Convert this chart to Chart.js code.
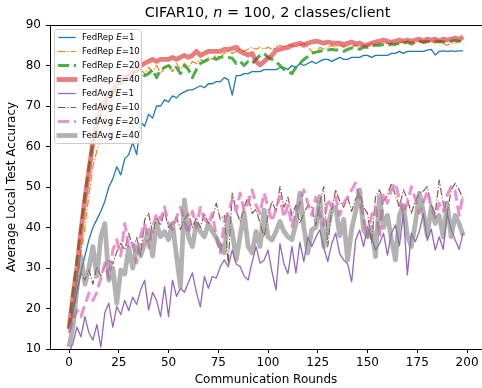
<!DOCTYPE html>
<html>
<head>
<meta charset="utf-8">
<script src="https://cdn.jsdelivr.net/npm/chart.js@4.4.1/dist/chart.umd.min.js"></script>
<style>
  html, body { margin: 0; padding: 0; background: #fff; }
  canvas { display: block; }
</style>
</head>
<body>
<canvas id="accChart" width="482" height="388"></canvas>
<script>
// communication rounds (every 2nd round)
const rounds = [
  0, 2, 4, 6, 8, 10, 12, 14, 16, 18,
  20, 22, 24, 26, 28, 30, 32, 34, 36, 38,
  40, 42, 44, 46, 48, 50, 52, 54, 56, 58,
  60, 62, 64, 66, 68, 70, 72, 74, 76, 78,
  80, 82, 84, 86, 88, 90, 92, 94, 96, 98,
  100, 102, 104, 106, 108, 110, 112, 114, 116, 118,
  120, 122, 124, 126, 128, 130, 132, 134, 136, 138,
  140, 142, 144, 146, 148, 150, 152, 154, 156, 158,
  160, 162, 164, 166, 168, 170, 172, 174, 176, 178,
  180, 182, 184, 186, 188, 190, 192, 194, 196, 198
];

const fedRepE1 = [
  15, 19, 24, 29, 33, 37, 40, 42, 44, 46.5,
  50, 52, 55, 53, 57, 58, 61, 58, 66, 65,
  68, 67, 70, 70, 71.5, 71, 72.5, 72, 73, 73.5,
  74, 74, 74.5, 75, 74.5, 75.5, 75.5, 76, 76, 77,
  76.5, 72.7, 77.5, 77.5, 78, 78, 78.5, 78.5, 78.5, 79,
  79, 79, 79, 79.5, 79.5, 79, 80, 79.5, 80.5, 80,
  80.5, 81, 80.5, 81, 81.5, 81.5, 81, 81.5, 82, 81.5,
  81.5, 82, 82, 82, 82.5, 82.5, 82, 82.5, 82.5, 82.5,
  82.5, 83, 83, 83.5, 83, 83.5, 83.5, 83.5, 83.5, 83.5,
  83.8, 84, 82.6, 83.5, 83.6, 83.5, 83.6, 83.5, 83.6, 83.6
];

const fedRepE10 = [
  14, 20, 27, 34, 40, 48, 55, 59, 63, 67,
  70, 72.5, 74, 75.5, 76.5, 77, 77.5, 78.5, 79, 78,
  79.5, 78.5, 80, 78, 79.5, 80, 78.5, 80.5, 79, 80.5,
  79.5, 81, 80.5, 81.5, 81, 82, 81.5, 82.5, 82, 83,
  83.5, 83, 83.5, 84, 83.5, 84, 84.5, 84, 84.5, 84,
  84.5, 84, 84.5, 85, 84.5, 85, 85, 84.5, 85, 85.5,
  84.5, 83.5, 83, 84.5, 84, 84.5, 85, 84.5, 85, 84.5,
  85, 84.5, 85, 84.5, 85, 85, 85.5, 85, 85.5, 85,
  85.5, 85.5, 85, 85.5, 86, 85.5, 85, 85.5, 86, 85.5,
  85.5, 86, 85.5, 86, 85.5, 85, 85.5, 85.5, 86, 86.2
];

const fedRepE20 = [
  15, 24, 32, 40, 48, 55, 61, 65, 68, 70,
  72, 73.5, 74.5, 75.5, 76.5, 77, 78, 78.5, 79, 77.5,
  78, 79, 77, 79, 79.5, 80, 79, 79.5, 78, 80,
  79, 77, 79, 80.5, 81, 81.5, 82, 81.5, 82, 82.2,
  82, 81.8, 80.5, 81, 80, 81, 80.5, 81.5, 82.5, 83,
  82, 81.5, 81, 80, 79, 78.5, 78, 79.5, 80.5, 81.5,
  82.2, 83, 83.3, 83.5, 83.8, 83.8, 84, 83.8, 83.8, 83.5,
  84, 84.3, 84.3, 84, 84.5, 84.5, 84.8, 85, 85, 85.2,
  85, 85.3, 85.2, 85.5, 85.5, 85.8, 85.5, 85.8, 86, 85.8,
  86, 85.7, 86, 86, 85.8, 86, 86, 86.2, 86, 86.2
];

const fedRepE40 = [
  15, 23, 30, 39, 47, 54, 61, 66, 69, 71,
  73, 74, 75.5, 76.5, 77, 77.5, 78, 79.5, 80, 80.5,
  81, 81.5, 81, 81.5, 81.5, 81.5, 82, 81.5, 82, 82.5,
  82, 82.5, 83.5, 82.5, 83, 83.5, 83.5, 83.5, 83.5, 84,
  84, 84.2, 84.5, 83.5, 83, 82.6, 83, 81, 80.1, 81,
  81.8, 82.5, 83.8, 84, 84.3, 84.5, 85, 85.2, 85.5, 85,
  85.5, 85.8, 86, 85.8, 85.5, 85.8, 85.6, 85.5, 85.5, 85.2,
  85.5, 85.8, 85.3, 85.5, 85, 85.1, 85.5, 85.8, 86, 86.3,
  86, 85.7, 86, 86.3, 86, 86.3, 86, 86.3, 86.5, 86,
  86.5, 86.3, 86.5, 86, 86.5, 86.3, 86.5, 86.8, 86.5, 87.1
];

const fedAvgE1 = [
  9, 11.5, 15.4, 13, 18, 14, 12.2, 16, 10.5, 19,
  21.3, 15.4, 20.5, 18.5, 22, 19.5, 22.8, 21, 24.6, 27,
  19.6, 24, 22, 18, 25.4, 18, 27, 23, 25, 24,
  26.5, 28.8, 24, 20.4, 27.9, 25, 27.9, 27.5, 30.3, 32,
  30.3, 34.4, 31, 30.3, 28, 27, 31.5, 35.3, 31.2, 32,
  34.4, 29, 24.6, 36, 31, 28.6, 35.3, 28.8, 36.4, 31.6,
  37.6, 35.3, 37.6, 39.4, 35, 31.6, 36, 38.6, 33.5, 32,
  31, 26.6, 36.9, 39.4, 35.3, 40.2, 37.5, 34.4, 36, 38.6,
  33.2, 38.6, 40.6, 35.5, 43.5, 28.3, 38.6, 36.5, 39, 43.5,
  36.8, 39.6, 34.4, 37.7, 34.6, 43.5, 39.6, 37, 34.6, 38.6
];

const fedAvgE10 = [
  15, 20, 24, 29, 27, 29.5, 26, 30.3, 28, 30.5,
  32, 31, 34, 36.1, 34.5, 38.6, 35, 37.5, 33, 41.9,
  43.5, 38.5, 42.5, 40.5, 44, 40, 41, 42.5, 39.5, 42,
  43.5, 40, 42.5, 40, 43.5, 41, 42, 46, 42, 43,
  31, 48.5, 44, 41.5, 45, 47.6, 43.5, 44.5, 41, 37.7,
  43, 46.5, 44, 50.1, 45, 47.5, 43, 45.5, 41, 43.5,
  45.5, 45, 40.5, 46, 50.1, 35.3, 44.5, 49.3, 46.5, 45,
  47.5, 44, 47, 48.5, 45, 43.5, 36.1, 47.5, 49.3, 46.5,
  48, 50.9, 48, 45, 49.3, 47, 43.5, 46.5, 48.5, 49,
  50.1, 45.5, 43.5, 51.7, 46, 43.5, 49.3, 50.9, 49.3, 47
];

const fedAvgE20 = [
  14, 17, 19.6, 18, 21, 23.8, 22, 24, 27.5, 31.2,
  27.5, 34.4, 37, 33, 41, 35, 36.1, 31.2, 38, 41,
  35, 40, 43.5, 42, 45.1, 41, 39.5, 42.5, 45, 41.5,
  38.5, 44, 40, 45, 42, 41, 43.5, 37.7, 33.7, 41.5,
  44, 46.8, 44, 48.5, 44, 46, 49.3, 45.5, 43.5, 48.5,
  45, 41.5, 44.5, 47.6, 42.5, 45.5, 40.2, 44, 46, 49.3,
  46, 43, 47.5, 43, 40.5, 47, 45, 47.5, 43, 46,
  47.5, 49.3, 51, 47, 42.5, 37.7, 43, 45, 37.7, 48.5,
  46, 49.3, 50.9, 47, 43.5, 46, 50.1, 47, 43.5, 46,
  49, 45, 42.5, 46, 44, 48, 50.1, 49, 43, 48
];

const fedAvgE40 = [
  10.5, 15.5, 25, 32.8, 26, 30, 35.3, 28, 37.7, 41,
  27, 30, 21.3, 29.5, 28.5, 35, 30, 35.3, 33, 36.1,
  39.4, 33, 41, 37.7, 39, 37, 41, 33, 25.4, 46.8,
  37.7, 35.3, 41, 39, 37.7, 41, 39, 37.5, 35.3, 33.7,
  42.7, 39, 32, 38, 43.5, 35.3, 33.7, 39, 35.3, 44.3,
  37.7, 36.9, 39, 41.5, 39, 37.7, 37, 41, 48.5, 40,
  33.7, 39.5, 40, 47.6, 35.3, 40, 44.3, 45, 38, 42,
  32, 39.5, 44, 49.3, 39.5, 37.7, 40, 32.8, 47.6, 40,
  43, 37, 32, 43, 45.5, 38, 35.3, 41, 48.5, 44,
  38, 45, 41, 43, 37.7, 46, 37.7, 43, 41, 38
];

const methodNames = ['FedRep', 'FedRep', 'FedRep', 'FedRep', 'FedAvg', 'FedAvg', 'FedAvg', 'FedAvg'];
const localEpochs = ['1', '10', '20', '40', '1', '10', '20', '40'];
const xTicks = [0, 25, 50, 75, 100, 125, 150, 175, 200];
const yTicks = [10, 20, 30, 40, 50, 60, 70, 80, 90];

const allSeries = [fedRepE1, fedRepE10, fedRepE20, fedRepE40, fedAvgE1, fedAvgE10, fedAvgE20, fedAvgE40];

// line styles (matplotlib-like)
const dashDot = [7.7, 1.9, 1.2, 1.9];
const dashed = [11, 4.8];
const styles = [
  { color: '#1f77b4', width: 1.3, dash: [] },
  { color: '#ff7f0e', width: 1.2, dash: dashDot },
  { color: 'rgba(44,160,44,0.85)', width: 3, dash: dashed },
  { color: 'rgba(214,39,40,0.6)', width: 4.8, dash: [] },
  { color: '#9467bd', width: 1.3, dash: [] },
  { color: '#8c564b', width: 1.2, dash: dashDot },
  { color: 'rgba(227,119,194,0.8)', width: 3, dash: dashed },
  { color: 'rgba(127,127,127,0.6)', width: 4.8, dash: [] }
];

const FONT = 'DejaVu Sans';

const datasets = allSeries.map((vals, i) => ({
  label: methodNames[i] + ' E=' + localEpochs[i],
  data: rounds.map((r, k) => ({ x: r, y: vals[k] })),
  borderColor: styles[i].color,
  borderWidth: styles[i].width,
  borderDash: styles[i].dash,
  borderJoinStyle: 'round',
  pointRadius: 0,
  tension: 0,
  fill: false,
  order: allSeries.length - i
}));

const extras = {
  id: 'extras',
  afterDatasetsDraw(chart) {
    const { ctx, chartArea: a } = chart;
    ctx.save();
    ctx.strokeStyle = '#000';
    ctx.lineWidth = 1;
    ctx.beginPath();
    ctx.moveTo(a.left, a.top + 0.5);
    ctx.lineTo(a.right, a.top + 0.5);
    ctx.stroke();
    ctx.restore();
  },
  afterDraw(chart) {
    const { ctx, chartArea: a } = chart;
    ctx.save();
    // title with italic n
    const tSize = 14.4;
    const parts = [
      { t: 'CIFAR10, ', it: false },
      { t: 'n', it: true },
      { t: ' = 100, 2 classes/client', it: false }
    ];
    let total = 0;
    parts.forEach(p => {
      ctx.font = (p.it ? 'italic ' : '') + tSize + 'px "' + FONT + '"';
      p.w = ctx.measureText(p.t).width;
      total += p.w;
    });
    let tx = (a.left + 485) / 2 - total / 2;
    ctx.fillStyle = '#000';
    ctx.textBaseline = 'alphabetic';
    ctx.textAlign = 'left';
    parts.forEach(p => {
      ctx.font = (p.it ? 'italic ' : '') + tSize + 'px "' + FONT + '"';
      ctx.fillText(p.t, tx, 17);
      tx += p.w;
    });

    // legend
    const lSize = 8.6;
    const bx = a.left + 4, by = a.top + 4, bw = 87, bh = 114, rowH = 14;
    ctx.beginPath();
    ctx.roundRect(bx + 0.5, by + 0.5, bw, bh, 3);
    ctx.fillStyle = 'rgba(255,255,255,0.8)';
    ctx.fill();
    ctx.strokeStyle = '#cccccc';
    ctx.lineWidth = 1;
    ctx.stroke();
    datasets.forEach((ds, i) => {
      const y = by + 8.5 + i * rowH;
      ctx.save();
      ctx.strokeStyle = styles[i].color;
      ctx.lineWidth = styles[i].width;
      ctx.setLineDash(styles[i].dash);
      ctx.lineCap = styles[i].dash.length ? 'butt' : 'square';
      ctx.beginPath();
      ctx.moveTo(bx + 4 + (styles[i].dash.length ? 0 : 1), y);
      ctx.lineTo(bx + 22 - (styles[i].dash.length ? 0 : 1), y);
      ctx.stroke();
      ctx.restore();
      ctx.fillStyle = '#000';
      ctx.textBaseline = 'middle';
      let x = bx + 28;
      const segs = [
        { t: methodNames[i] + ' ', it: false },
        { t: 'E', it: true },
        { t: '=' + localEpochs[i], it: false }
      ];
      segs.forEach(s => {
        ctx.font = (s.it ? 'italic ' : '') + lSize + 'px "' + FONT + '"';
        ctx.fillText(s.t, x, y);
        x += ctx.measureText(s.t).width;
      });
    });
    ctx.restore();
  }
};

new Chart(document.getElementById('accChart').getContext('2d'), {
  type: 'line',
  data: { datasets },
  options: {
    responsive: false,
    animation: false,
    devicePixelRatio: 1,
    layout: { padding: { top: 25, right: 0, bottom: 0, left: 0 } },
    plugins: { legend: { display: false }, tooltip: { enabled: false }, title: { display: false } },
    scales: {
      x: {
        type: 'linear',
        min: -9.55,
        max: 207.5,
        afterBuildTicks: s => { s.ticks = xTicks.map(v => ({ value: v })); },
        afterFit: s => { s.height = 39; s.paddingLeft = 0; s.paddingRight = 0; },
        grid: { drawOnChartArea: false, drawTicks: true, tickLength: 4, color: '#000', lineWidth: 1 },
        border: { color: '#000', width: 1 },
        ticks: { color: '#000', font: { family: FONT, size: 12 }, padding: 3, maxRotation: 0, autoSkip: false },
        title: { display: true, text: 'Communication Rounds', color: '#000', font: { family: FONT, size: 12 }, padding: { top: 0, bottom: 1 } }
      },
      y: {
        min: 10,
        max: 90,
        afterBuildTicks: s => { s.ticks = yTicks.map(v => ({ value: v })); },
        afterFit: s => { s.width = 50; },
        grid: { drawOnChartArea: false, drawTicks: true, tickLength: 4, color: '#000', lineWidth: 1 },
        border: { color: '#000', width: 1 },
        ticks: { color: '#000', font: { family: FONT, size: 12 }, padding: 5, autoSkip: false },
        title: { display: true, text: 'Average Local Test Accuracy', color: '#000', font: { family: FONT, size: 12 }, padding: { top: 5, bottom: 0 } }
      }
    }
  },
  plugins: [extras]
});
</script>
</body>
</html>
